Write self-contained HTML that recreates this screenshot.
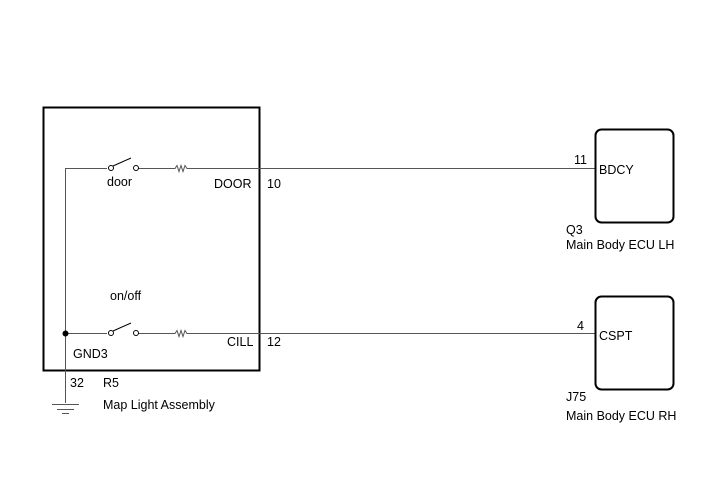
<!DOCTYPE html>
<html><head><style>body{margin:0;background:#fff}svg{display:block}text{font-family:"Liberation Sans",sans-serif;font-size:12.5px;fill:#000}</style></head>
<body><svg width="713" height="481" viewBox="0 0 713 481">
<g stroke="#000" fill="none" stroke-width="1">
<rect x="43.5" y="107.5" width="216" height="263" stroke-width="2"/>
<path d="M65.5 168.5V403 M65 168.5H107 M138 168.5H175 l2 -3 l2 6 l2 -6 l2 6 l2 -6 l2 3 H595" stroke="#555"/>
<path d="M65 333.5H107 M138 333.5H175 l2 -3 l2 6 l2 -6 l2 6 l2 -6 l2 3 H595" stroke="#555"/>
<circle cx="111" cy="168" r="2.5" fill="#fff"/><circle cx="136" cy="168" r="2.5" fill="#fff"/>
<line x1="113" y1="166" x2="131" y2="158"/>
<circle cx="111" cy="333" r="2.5" fill="#fff"/><circle cx="136" cy="333" r="2.5" fill="#fff"/>
<line x1="113" y1="331" x2="131" y2="323"/>
<path d="M52 404.5H79 M57 409.5H74 M62 413.5H69" stroke="#555"/>
<rect x="595.5" y="129.5" width="78" height="93" rx="6" stroke-width="2"/>
<rect x="595.5" y="296.5" width="78" height="93" rx="6" stroke-width="2"/>
</g>
<circle cx="65.5" cy="333.5" r="3" fill="#000"/>
<text x="107" y="186">door</text>
<text x="214" y="188">DOOR</text><text x="267" y="188">10</text>
<text x="110" y="300">on/off</text>
<text x="227" y="346">CILL</text><text x="267" y="346">12</text>
<text x="73" y="358">GND3</text>
<text x="70" y="387">32</text>
<text x="103" y="387">R5</text>
<text x="103" y="409">Map Light Assembly</text>
<text x="574" y="164">11</text><text x="599" y="174">BDCY</text>
<text x="566" y="234">Q3</text><text x="566" y="249">Main Body ECU LH</text>
<text x="577" y="330">4</text><text x="599" y="340">CSPT</text>
<text x="566" y="401">J75</text><text x="566" y="420">Main Body ECU RH</text>
</svg></body></html>
